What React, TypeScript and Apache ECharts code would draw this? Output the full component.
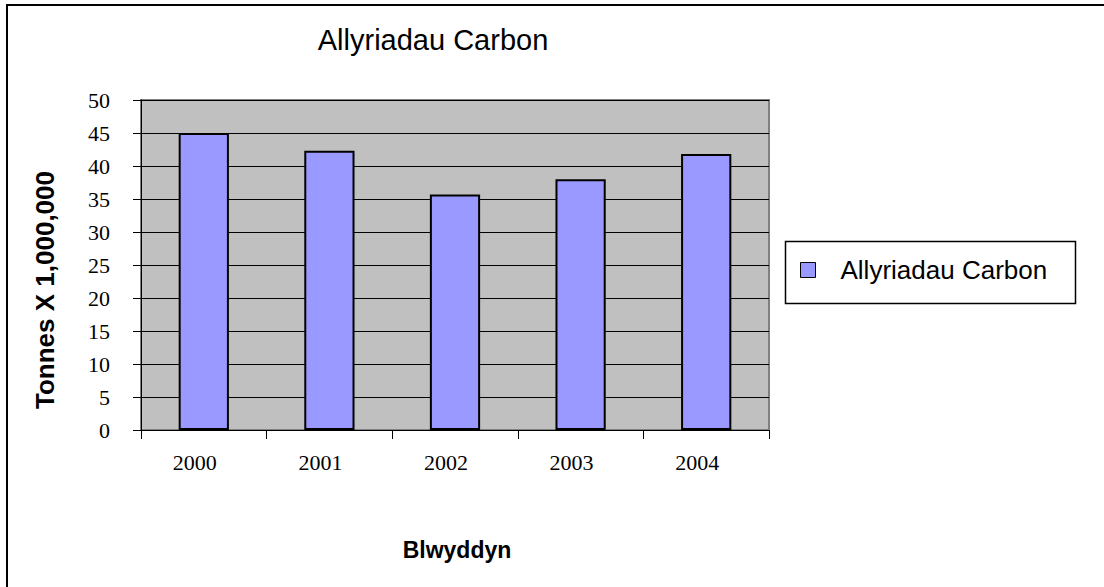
import React, { useEffect, useRef } from "react";
import * as echarts from "echarts";

const years = ["2000", "2001", "2002", "2003", "2004"];
const emissions = [45, 42.3, 35.7, 38.0, 41.8];
const seriesName = "Allyriadau Carbon";
const titleText = "Allyriadau Carbon";
const yAxisTitle = "Tonnes X 1,000,000";
const xAxisTitle = "Blwyddyn";

export default function App() {
  const ref = useRef<HTMLDivElement>(null);
  useEffect(() => {
    document.body.style.margin = "0";
    const chart = echarts.init(ref.current!, undefined, { renderer: "svg" });
    const gridLeft = 141;
    const gridTop = 100;
    const gridRight = 1104 - 769;
    const gridBottom = 587 - 430;
    chart.setOption({
      animation: false,
      backgroundColor: "#ffffff",
      title: {
        text: titleText,
        left: 428,
        top: 20,
        textAlign: "center",
        textStyle: { fontFamily: "Liberation Sans", fontSize: 29, fontWeight: "normal", color: "#000" },
      },
      graphic: [
        {
          type: "rect",
          shape: { x: 7, y: 5, width: 1200, height: 700 },
          style: { fill: "none", stroke: "#000", lineWidth: 2 },
          silent: true,
        },
        {
          type: "rect",
          shape: { x: 785.5, y: 241.5, width: 290, height: 62 },
          style: { fill: "#fff", stroke: "#000", lineWidth: 1.5 },
          z: -1,
          silent: true,
        },
        {
          type: "text",
          x: 45,
          y: 290,
          rotation: Math.PI / 2,
          style: {
            text: yAxisTitle,
            font: "bold 26px 'Liberation Sans'",
            fill: "#000",
            align: "center",
            verticalAlign: "middle",
          },
          silent: true,
        },
        {
          type: "text",
          x: 457,
          y: 550,
          style: {
            text: xAxisTitle,
            font: "bold 23px 'Liberation Sans'",
            fill: "#000",
            align: "center",
            verticalAlign: "middle",
          },
          silent: true,
        },
      ],
      legend: {
        left: 800,
        top: 257,
        padding: 0,
        itemWidth: 15,
        itemHeight: 15,
        icon: "rect",
        data: [seriesName],
        itemStyle: { color: "#9999ff", borderColor: "#000", borderWidth: 1 },
        textStyle: { fontFamily: "Liberation Sans", fontSize: 26, color: "#000", padding: [0, 0, 0, 20] },
      },
      grid: {
        left: gridLeft,
        top: gridTop,
        right: gridRight,
        bottom: gridBottom,
        show: true,
        backgroundColor: "#c0c0c0",
        borderColor: "#808080",
        borderWidth: 2,
      },
      xAxis: {
        type: "category",
        data: years,
        boundaryGap: true,
        axisLine: { show: true, lineStyle: { color: "#000", width: 1 } },
        axisTick: { show: true, alignWithLabel: false, length: 9, lineStyle: { color: "#000" } },
        axisLabel: { fontFamily: "Liberation Serif", fontSize: 22, color: "#000", margin: 21, padding: [0, 18, 0, 0] },
        splitLine: { show: false },
      },
      yAxis: {
        type: "value",
        min: 0,
        max: 50,
        interval: 5,
        axisLine: { show: true, lineStyle: { color: "#000", width: 1 } },
        axisTick: { show: true, length: 8, lineStyle: { color: "#000" } },
        axisLabel: { fontFamily: "Liberation Serif", fontSize: 22, color: "#000", margin: 31 },
        splitLine: { show: true, lineStyle: { color: "#000", width: 1 } },
      },
      series: [
        {
          name: seriesName,
          type: "bar",
          data: emissions,
          barWidth: "40%",
          itemStyle: { color: "#9999ff", borderColor: "#000", borderWidth: 2 },
        },
      ],
    });
    return () => chart.dispose();
  }, []);
  return <div ref={ref} style={{ width: 1104, height: 587 }} />;
}
